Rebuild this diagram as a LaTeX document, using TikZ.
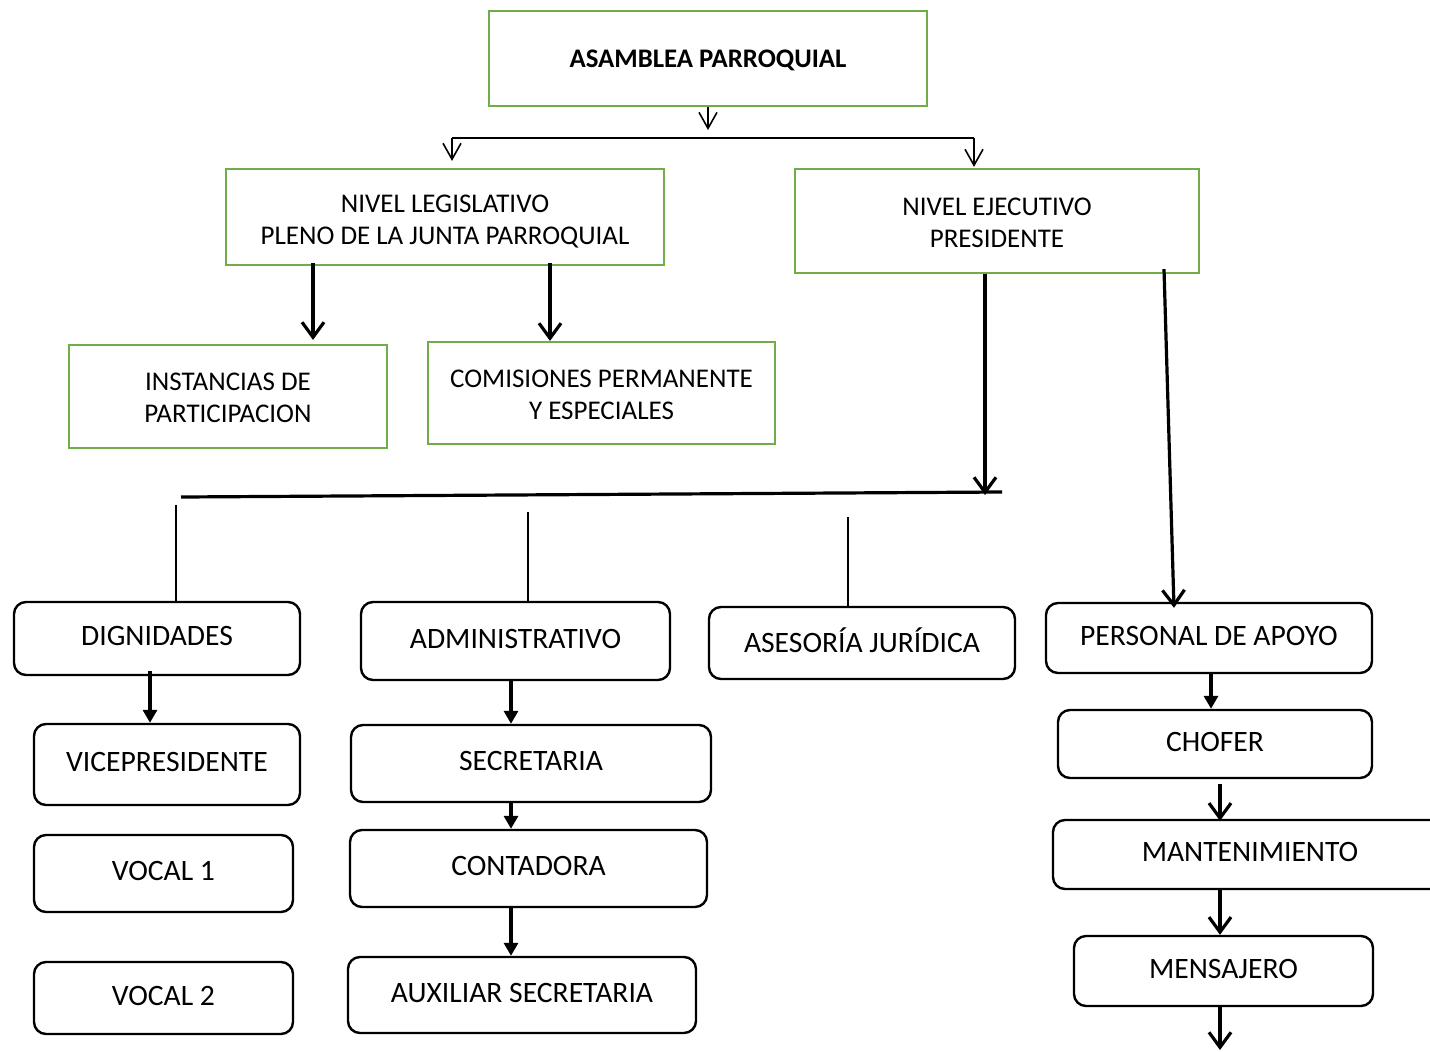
\documentclass[tikz,border=0pt]{standalone}
\usepackage{fontspec}
\setmainfont{Carlito}
\usetikzlibrary{arrows.meta}

\begin{document}
\begin{tikzpicture}[x=0.5pt,y=-0.5pt,
    greenbox/.style={draw=boxgreen,line width=1.1pt,align=center,
      inner sep=0pt,text depth=0pt,text height=26.7pt,font=\fontsize{13.5}{16}\selectfont},
    roundbox/.style={draw,line width=1.2pt,rounded corners=6pt,align=center,
      inner sep=0pt,text depth=2.5pt,font=\fontsize{14.8}{17}\selectfont},
    thinarr/.style={line width=0.6pt,-{Straight Barb[length=8pt,width=9pt,line width=0.8pt]}},
    vee/.style={line width=1.6pt,-{Straight Barb[length=7.5pt,width=11pt]}},
    tri/.style={line width=1.6pt,-{Triangle[length=6.5pt,width=7pt]}}]
  \definecolor{boxgreen}{RGB}{112,173,71}
  \clip (0,0) rectangle (1430,1051);

  % top levels
  \node[greenbox,minimum width=219pt,minimum height=47.5pt,font=\fontsize{13.4}{16}\selectfont\bfseries,text height=11pt,text depth=2pt]
    (asamblea) at (708,58.5) {ASAMBLEA PARROQUIAL};
  \node[greenbox,minimum width=219pt,minimum height=48pt,text height=27.5pt] (legis) at (445,217)
    {NIVEL LEGISLATIVO\\PLENO DE LA JUNTA PARROQUIAL};
  \node[greenbox,minimum width=202pt,minimum height=52pt] (ejec) at (997,221)
    {NIVEL EJECUTIVO\\PRESIDENTE};
  \node[greenbox,minimum width=159pt,minimum height=51.5pt,text height=26.2pt] (instancias) at (228,396.5)
    {INSTANCIAS DE\\PARTICIPACION};
  \node[greenbox,minimum width=173.5pt,minimum height=51pt] (comisiones) at (601.5,393)
    {COMISIONES PERMANENTE\\Y ESPECIALES};

  % second row
  \node[roundbox,minimum width=143pt,minimum height=36.5pt] (dignidades) at (157,638.5) {DIGNIDADES};
  \node[roundbox,minimum width=154.5pt,minimum height=39pt] (admin) at (515.5,641) {ADMINISTRATIVO};
  \node[roundbox,minimum width=153pt,minimum height=36pt] (asesoria) at (862,643) {ASESORÍA JURÍDICA};
  \node[roundbox,minimum width=163pt,minimum height=35pt] (personal) at (1209,638) {PERSONAL DE APOYO};

  % columns
  \node[roundbox,minimum width=133pt,minimum height=40.5pt] (vice) at (167,764.5) {VICEPRESIDENTE};
  \node[roundbox,minimum width=129.5pt,minimum height=38.5pt] (vocal1) at (163.5,873.5) {VOCAL 1};
  \node[roundbox,minimum width=129.5pt,minimum height=36pt] (vocal2) at (163.5,998) {VOCAL 2};
  \node[roundbox,minimum width=180pt,minimum height=38.5pt] (secretaria) at (531,763.5) {SECRETARIA};
  \node[roundbox,minimum width=178.5pt,minimum height=38.5pt] (contadora) at (528.5,868.5) {CONTADORA};
  \node[roundbox,minimum width=174pt,minimum height=38pt] (auxiliar) at (522,995) {AUXILIAR SECRETARIA};
  \node[roundbox,minimum width=157pt,minimum height=34pt] (chofer) at (1215,744) {CHOFER};
  \node[roundbox,minimum width=197pt,minimum height=34.5pt] (mant) at (1250,854.5) {MANTENIMIENTO};
  \node[roundbox,minimum width=149.5pt,minimum height=35pt] (mensajero) at (1223.5,971) {MENSAJERO};

  \coordinate (busTop) at (708,138);
  \coordinate (topL) at (452,138);
  \coordinate (topR) at (974,138);
  \coordinate (busL) at (181,497);
  \coordinate (busR) at (1002,492);
  \coordinate (busArr) at (985,495);
  \coordinate (drop1) at (176,505);
  \coordinate (drop2) at (528,512);
  \coordinate (drop3) at (848,517);
  \coordinate (fin) at (1220,1050);

  % connectors
  \draw[thinarr] (asamblea.south) -- ([yshift=4pt]busTop);
  \draw[line width=0.6pt] (topL) -- (topR);
  \draw[thinarr] (topL) -- ([yshift=3.5pt]topL |- legis.north);
  \draw[thinarr] (topR) -- ([yshift=0.5pt]topR |- ejec.north);

  \draw[vee] ([xshift=-66pt,yshift=1.5pt]legis.south) -- ([xshift=-66pt,yshift=2pt]legis.south |- instancias.north);
  \draw[vee] ([xshift=52.5pt,yshift=1.5pt]legis.south) -- ([xshift=52.5pt]legis.south |- comisiones.north);

  \draw[line width=1.6pt] (busL) -- (busR);
  \draw[vee] ([xshift=-6pt]ejec.south) -- (busArr);
  \draw[vee] ([xshift=83.5pt,yshift=2.5pt]ejec.south) -- ([xshift=-17.5pt,yshift=-3pt]personal.north);

  \draw[line width=1pt] (drop1) -- (drop1 |- dignidades.north);
  \draw[line width=1pt] (drop2) -- (drop2 |- admin.north);
  \draw[line width=1pt] (drop3) -- (drop3 |- asesoria.north);

  \draw[tri] ([xshift=-3.5pt,yshift=2.5pt]dignidades.south) -- ([xshift=-3.5pt]dignidades.south |- vice.north);
  \draw[tri] ([xshift=-2.25pt]admin.south) -- ([xshift=-2.25pt]admin.south |- secretaria.north);
  \draw[tri] ([xshift=-10pt,yshift=1pt]secretaria.south) -- ([xshift=-10pt]secretaria.south |- contadora.north);
  \draw[tri] ([xshift=-8.75pt]contadora.south) -- ([xshift=-8.75pt]contadora.south |- auxiliar.north);
  \draw[tri] ([xshift=1pt,yshift=0.5pt]personal.south) -- ([xshift=1pt]personal.south |- chofer.north);
  \draw[vee] ([xshift=2.5pt,yshift=-2.5pt]chofer.south) -- ([xshift=2.5pt,yshift=-1pt]chofer.south |- mant.north);
  \draw[vee] ([xshift=-15pt,yshift=1pt]mant.south) -- ([xshift=-15pt]mant.south |- mensajero.north);
  \draw[vee] ([xshift=-1.75pt,yshift=0.5pt]mensajero.south) -- (fin);
\end{tikzpicture}
\end{document}
